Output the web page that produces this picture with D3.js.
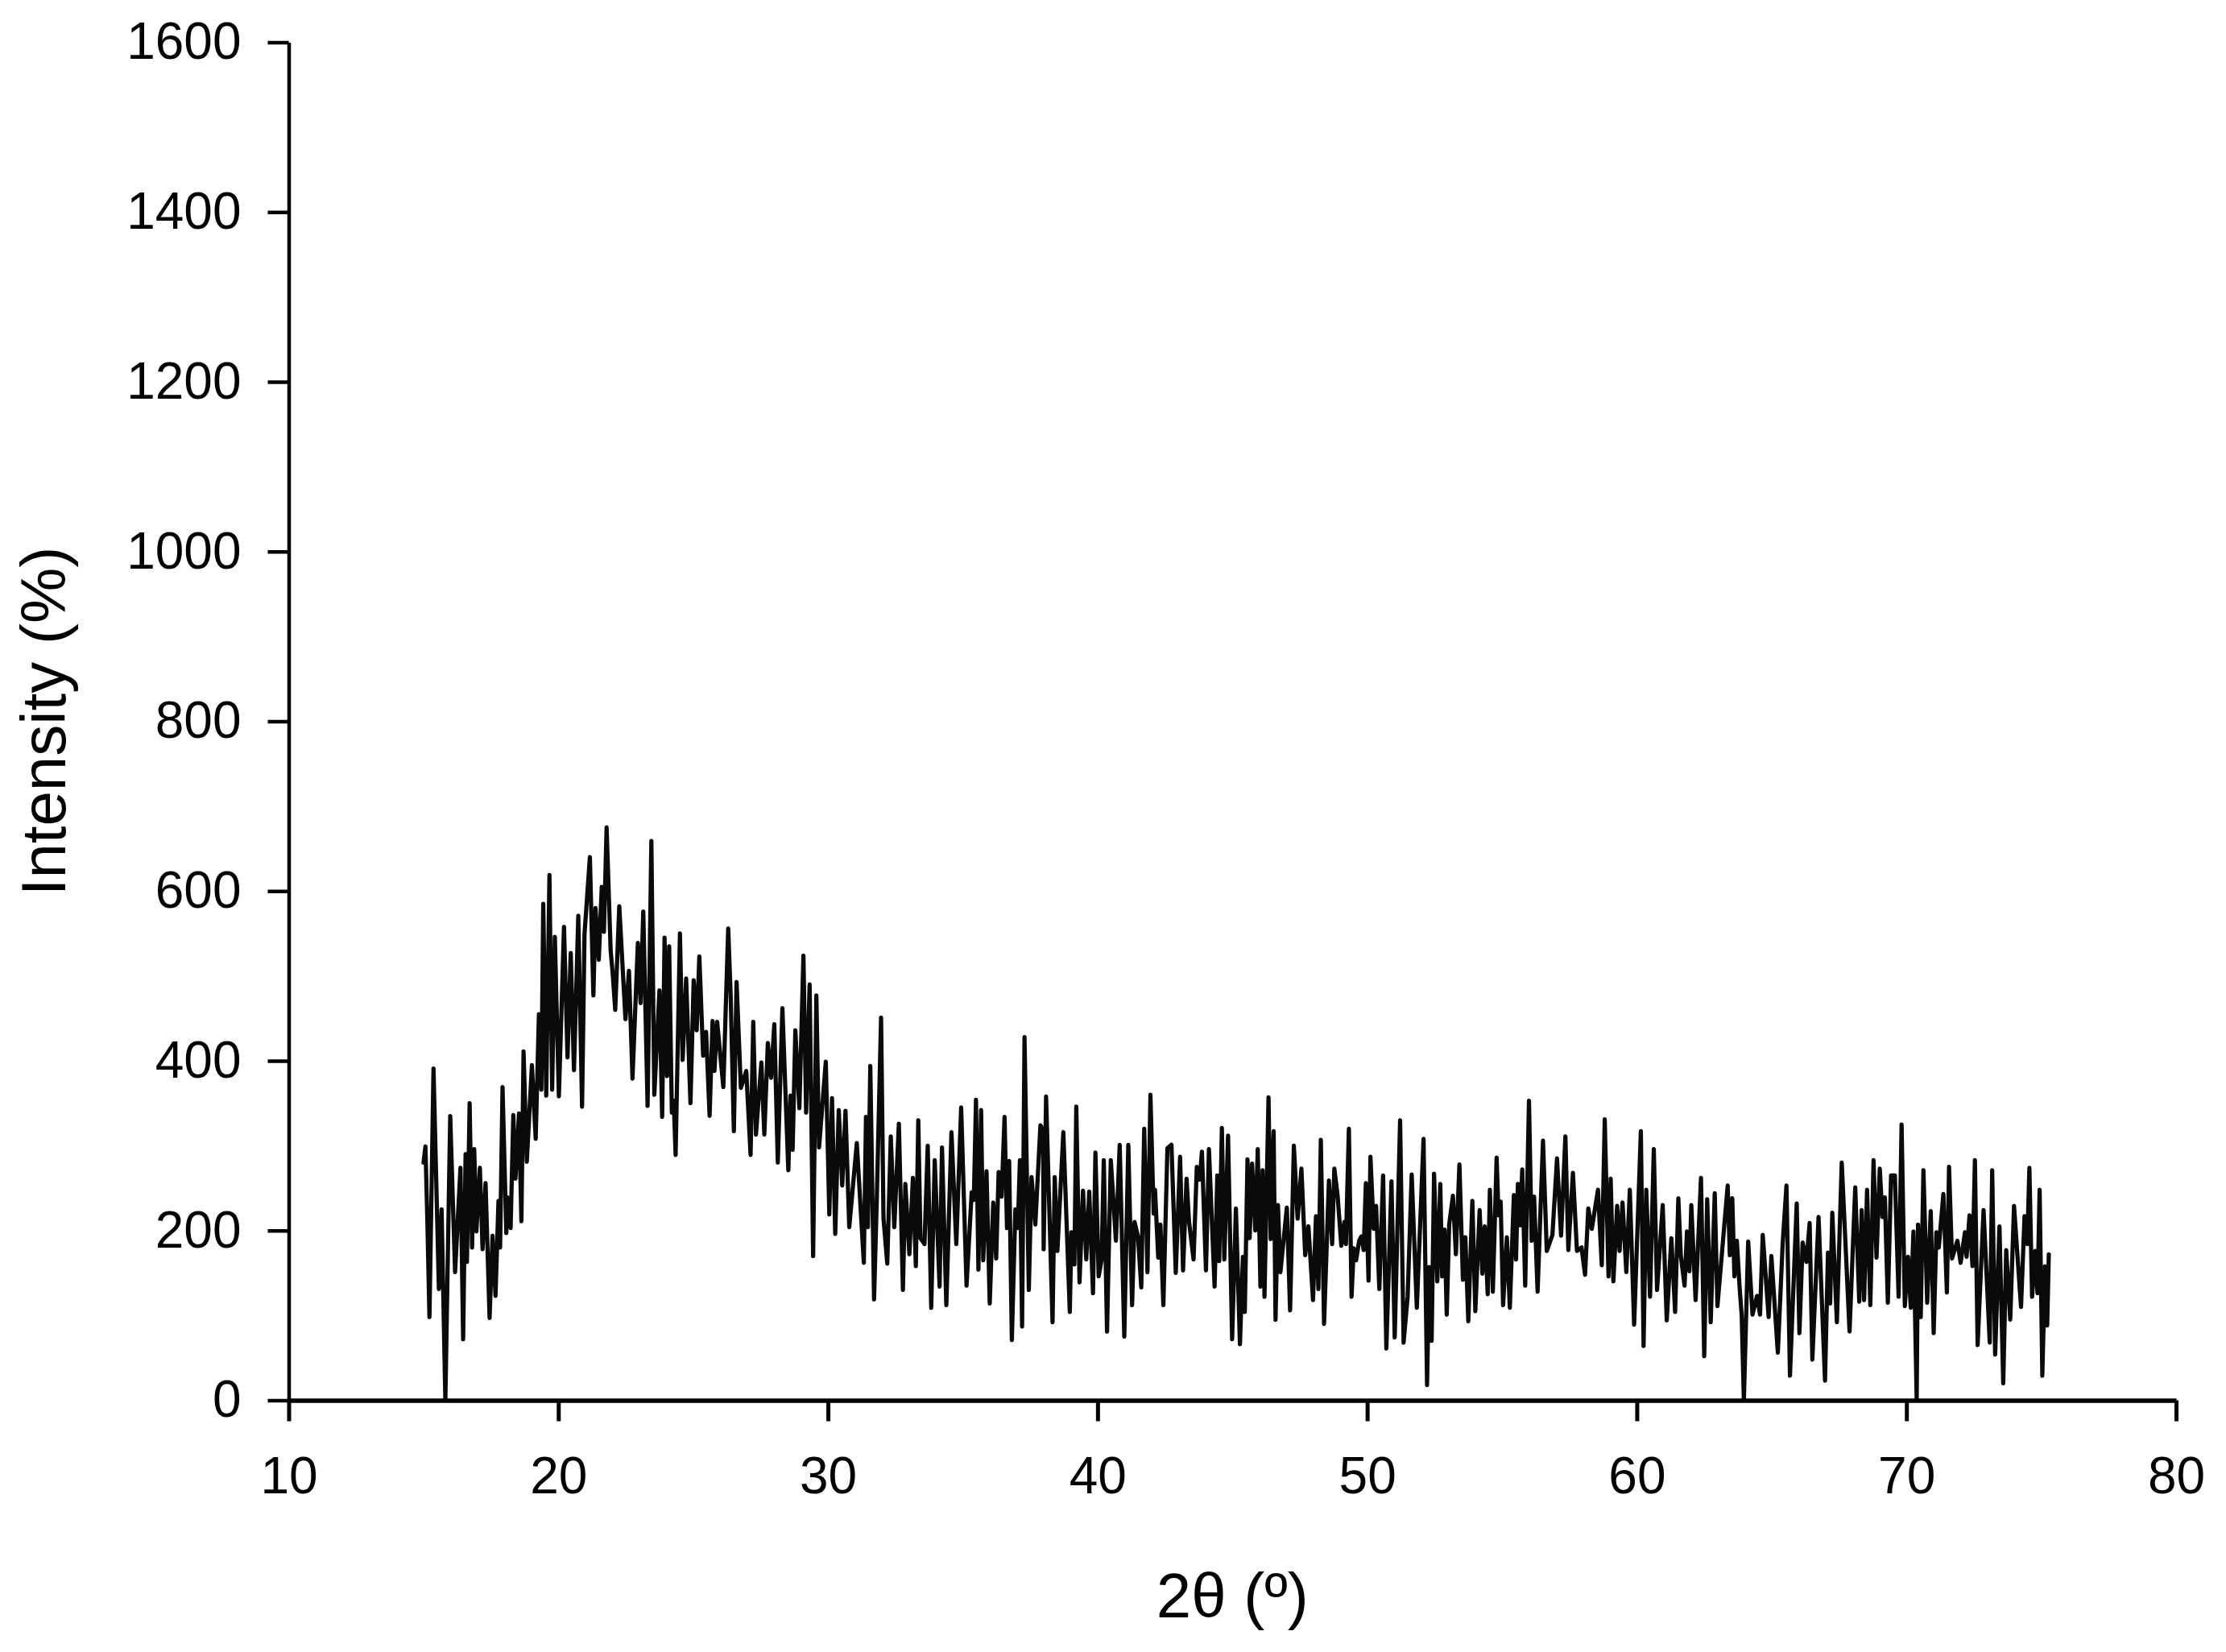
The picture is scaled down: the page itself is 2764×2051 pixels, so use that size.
<!DOCTYPE html>
<html><head><meta charset="utf-8">
<script src="https://cdnjs.cloudflare.com/ajax/libs/d3/7.8.5/d3.min.js"></script>
<style>html,body{margin:0;padding:0;background:#fff}svg{display:block}text{font-family:"Liberation Sans",Arial,sans-serif;fill:#000}</style>
</head><body><div id="chart"></div>
<script>
const twoTheta = [15.00,15.07,15.14,15.22,15.37,15.57,15.67,15.81,15.99,16.17,16.37,16.47,16.56,16.61,16.71,16.80,16.88,16.96,17.09,17.19,17.30,17.45,17.56,17.67,17.78,17.84,17.93,18.07,18.11,18.23,18.33,18.41,18.54,18.63,18.71,18.83,19.02,19.16,
19.28,19.37,19.44,19.55,19.67,19.77,19.87,20.02,20.21,20.34,20.46,20.58,20.74,20.88,20.97,21.17,21.30,21.38,21.50,21.61,21.69,21.79,21.94,22.01,22.11,22.26,22.49,22.62,22.75,22.95,23.05,23.15,23.31,
23.45,23.56,23.75,23.85,23.94,24.03,24.11,24.21,24.28,24.35,24.51,24.61,24.74,24.90,25.02,25.13,25.23,25.37,25.48,25.61,25.72,25.79,25.89,26.12,26.30,26.39,26.51,26.61,26.77,26.97,27.13,27.23,27.33,27.53,27.64,27.77,27.89,28.01,28.14,28.31,28.53,28.61,28.69,28.79,28.94,29.09,29.19,29.32,29.45,29.57,29.67,29.92,30.05,30.15,30.27,30.40,30.53,30.65,30.79,31.07,31.33,31.41,31.48,31.57,31.71,31.81,
31.97,32.06,32.20,32.33,32.46,32.63,32.78,32.87,33.02,33.15,33.26,33.35,33.43,33.58,33.70,33.83,33.96,34.14,34.23,34.39,34.58,34.76,34.94,35.14,35.33,35.41,35.49,35.58,35.68,35.76,35.88,36.00,36.13,36.24,36.33,36.44,36.55,36.64,36.72,36.82,36.95,37.04,37.12,37.20,37.29,37.45,37.55,37.69,37.88,37.98,38.00,38.09,38.33,38.41,38.51,38.73,38.97,39.03,39.14,39.21,39.33,39.46,39.58,39.69,39.83,39.92,40.04,40.15,40.23,40.35,40.49,40.68,
40.82,40.99,41.14,41.28,41.37,41.50,41.62,41.73,41.85,41.96,42.08,42.13,42.25,42.33,42.44,42.59,42.74,42.90,43.06,43.17,43.30,43.39,43.56,43.68,43.79,43.87,44.02,44.13,44.34,44.44,44.51,44.61,44.70,44.84,44.99,45.13,45.28,45.39,45.46,45.56,45.64,45.73,45.85,45.94,46.04,46.12,46.19,46.34,46.42,46.53,46.60,46.69,46.78,47.02,47.14,47.28,47.42,47.56,47.70,47.82,47.99,48.10,48.19,48.28,48.40,
48.58,48.70,48.78,48.90,49.04,49.15,49.21,49.32,49.42,49.50,49.59,49.70,49.78,49.87,49.95,50.05,50.12,50.24,50.33,50.45,50.59,50.71,50.90,51.02,51.22,51.35,51.50,51.65,51.84,52.09,52.22,52.30,52.39,52.48,52.60,52.71,52.78,52.87,52.95,53.04,53.18,53.29,53.42,53.55,53.64,53.75,53.90,54.01,54.17,54.27,54.36,54.47,54.55,54.66,54.80,54.87,54.95,55.04,55.18,55.29,55.44,55.52,55.59,55.67,55.75,55.86,56.00,56.10,56.19,56.32,56.52,56.66,56.87,57.04,57.19,57.35,57.46,57.63,57.78,57.95,58.08,58.20,58.33,58.56,58.70,58.81,58.95,59.03,59.13,59.27,59.36,59.47,59.61,59.74,59.90,60.15,60.25,60.35,60.49,60.63,60.75,60.96,61.11,61.28,61.42,61.54,61.63,61.77,61.86,61.95,62.02,62.18,62.38,
62.50,62.61,62.74,62.89,62.99,63.37,63.45,63.54,63.62,63.71,63.81,63.89,63.97,64.13,64.29,64.46,64.57,64.67,64.89,64.99,65.23,65.41,65.55,65.68,65.93,66.03,66.15,66.29,66.41,66.51,66.74,66.98,67.09,67.17,67.25,67.42,67.60,67.89,68.10,68.25,68.34,68.43,68.54,68.66,68.78,68.89,69.01,69.11,69.20,69.31,69.43,69.57,69.71,69.82,69.94,70.06,70.16,70.26,70.38,70.43,70.53,70.63,70.77,70.90,71.01,71.11,71.20,71.37,71.50,71.58,71.69,71.89,72.01,72.17,72.23,72.34,72.45,72.54,72.64,72.86,73.09,73.18,73.29,73.45,73.59,73.70,73.85,73.99,74.25,74.38,74.48,74.56,74.66,74.78,74.86,74.94,75.04,75.14,75.22,75.28];
const intensity = [280,299,214,98,391,131,225,0,335,151,274,72,290,163,350,180,296,199,274,178,256,97,194,123,235,180,369,197,239,203,336,261,338,211,411,281,395,308,
455,366,585,359,619,366,546,358,558,404,527,389,571,346,549,640,477,580,519,605,552,675,530,505,460,582,449,506,379,539,468,576,347,
659,360,483,334,545,382,535,339,353,289,550,401,497,350,495,436,523,406,434,335,447,388,446,369,556,479,317,493,368,388,289,446,313,398,313,421,380,443,280,462,271,359,295,436,344,524,339,490,170,477,298,399,219,356,196,342,253,341,204,303,162,334,204,394,119,235,
451,214,161,311,204,326,130,255,172,262,158,330,191,184,300,109,283,134,298,112,316,184,345,135,245,236,354,154,342,165,270,114,233,167,269,240,334,203,282,71,225,203,283,87,428,130,263,207,324,318,178,358,92,263,176,316,104,198,160,346,139,247,166,246,126,292,146,166,283,81,283,188,
301,75,301,112,210,193,133,320,151,360,220,248,168,207,112,297,301,150,287,153,261,211,166,275,260,293,153,296,134,265,164,321,166,312,72,226,66,169,104,284,191,279,200,296,134,271,122,357,190,317,95,230,151,227,106,300,214,273,171,205,118,217,131,307,90,
259,184,273,242,182,210,184,320,122,179,165,188,193,177,256,141,287,202,229,131,265,61,258,74,330,68,122,266,109,308,18,157,70,267,140,255,146,201,101,207,241,172,278,142,192,93,235,105,224,149,205,125,248,128,286,218,234,112,192,109,242,166,255,206,272,135,353,188,240,128,306,176,195,285,194,311,177,268,176,180,148,226,202,248,159,331,146,261,140,229,176,233,151,248,89,317,64,248,122,296,130,230,94,191,104,238,171,135,199,152,230,118,262,
52,237,92,244,111,253,171,238,146,188,134,100,0,187,101,123,101,195,98,170,56,185,253,29,232,79,186,163,209,48,216,23,174,114,221,92,280,81,251,116,224,118,248,112,283,168,273,216,239,115,265,265,122,325,111,169,109,199,0,207,98,271,115,223,79,198,180,243,127,275,167,188,162,198,169,218,158,283,65,224,68,271,54,205,20,177,95,229,110,217,184,274,122,176,126,248,29,158,88,172];
const xTicks = [10,20,30,40,50,60,70,80];
const yTicks = [0,200,400,600,800,1000,1200,1400,1600];
const xTitle = "2θ (º)";
const yTitle = "Intensity (%)";

const W = 2764, H = 2051;
const x = d3.scaleLinear().domain([10,80]).range([358.5,2702]);
const y = d3.scaleLinear().domain([0,1600]).range([1738.5,52.5]);
const svg = d3.select("#chart").append("svg").attr("width",W).attr("height",H).attr("viewBox",[0,0,W,H]);
svg.append("rect").attr("width",W).attr("height",H).attr("fill","#fff");

const line = d3.line().x((d,i)=>x(twoTheta[i])).y(d=>y(d));
svg.append("path").datum(intensity).attr("d",line).attr("fill","none").attr("stroke","#0a0a0a").attr("stroke-width",5.2).attr("stroke-linejoin","round").attr("stroke-linecap","round");

const gy = svg.append("g").attr("transform",`translate(${x(10)},0)`)
  .call(d3.axisLeft(y).tickValues(yTicks).tickSize(26).tickSizeOuter(0).tickPadding(33).tickFormat(d3.format("d")));
gy.select(".domain").attr("stroke","#000").attr("stroke-width",4.5);
gy.selectAll(".tick line").attr("stroke","#000").attr("stroke-width",4.5);
gy.selectAll("text").attr("font-size",64).attr("font-family","Liberation Sans").attr("fill","#000");

const gx = svg.append("g").attr("transform",`translate(0,${y(0)})`)
  .call(d3.axisBottom(x).tickValues(xTicks).tickSize(26).tickSizeOuter(0).tickPadding(44).tickFormat(d3.format("d")));
gx.select(".domain").attr("stroke","#000").attr("stroke-width",5.5);
gx.selectAll(".tick line").attr("stroke","#000").attr("stroke-width",5);
gx.selectAll("text").attr("font-size",64).attr("font-family","Liberation Sans").attr("fill","#000");

svg.append("text").attr("x",(x(10)+x(80))/2).attr("y",2008).attr("text-anchor","middle").attr("font-size",78).text(xTitle);
svg.append("text").attr("transform",`translate(81,${(y(0)+y(1600))/2}) rotate(-90)`).attr("text-anchor","middle").attr("font-size",78).text(yTitle);

if (twoTheta.length !== intensity.length) console.error("length mismatch", twoTheta.length, intensity.length);
</script></body></html>
